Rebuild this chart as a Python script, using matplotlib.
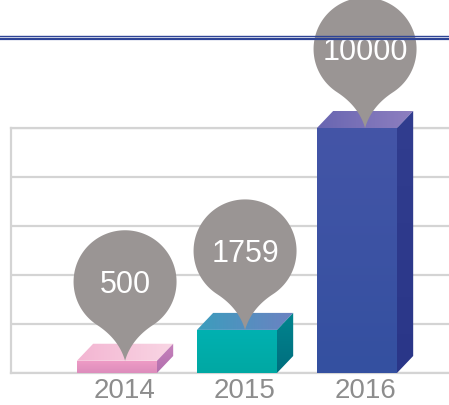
import numpy as np
import matplotlib
matplotlib.use("Agg")
import matplotlib.pyplot as plt
from matplotlib.patches import Polygon, PathPatch
from matplotlib.path import Path
from matplotlib.lines import Line2D
import matplotlib.transforms as mtransforms
from matplotlib.colors import to_rgb

# ---- data ----
years = ["2014", "2015", "2016"]
values = [500, 1759, 10000]
labels = ["500", "1759", "10000"]

# ---- colours ----
front_top = ["#ef9cc6", "#00b1b1", "#4455a7"]
front_bot = ["#dd8dbc", "#00a8a3", "#3450a0"]
top_left = ["#f3b5d2", "#3c9dbd", "#6966b1"]
top_right = ["#f9d6e4", "#6c82c2", "#8e7fc0"]
side_top = ["#c682bc", "#00858f", "#313d8f"]
side_bot = ["#b26fae", "#006e7e", "#2a3688"]
pin_color = "#9a9594"
grid_color = "#d4d4d4"
year_color = "#8d8d8d"
rule_color = "#2e4496"

plt.rcParams['font.family'] = ['Liberation Sans', 'DejaVu Sans']

W, H, DPI = 449, 405, 100
fig = plt.figure(figsize=(W / DPI, H / DPI), dpi=DPI)
ax = fig.add_axes([11 / W, (H - 373) / H, (W - 11) / W, (373 - 128) / H])

x = np.arange(len(years))
bw = 0.667
ddx = 0.135
ddy = 694
xlim = (-0.883, -0.883 + (W - 11) / 120)
ax.set_xlim(*xlim)
ax.set_ylim(0, 10000)

# grid
ax.set_yticks(np.arange(0, 10001, 2000))
ax.grid(axis='y', color=grid_color, lw=1.6, zorder=0)
ax.set_axisbelow(True)
ax.spines['right'].set_visible(False)
for s in ['left', 'top', 'bottom']:
    ax.spines[s].set_color(grid_color)
    ax.spines[s].set_linewidth(1.6)
    ax.spines[s].set_zorder(0.5)
ax.tick_params(axis='y', length=0, labelleft=False)
ax.set_xticks(x + ddx / 2, years)
ax.tick_params(axis='x', length=0, pad=3.5, labelsize=20, labelcolor=year_color)


def grad_fill(verts, c1, c2, direction, z):
    poly = Polygon(verts, closed=True, facecolor='none', edgecolor='none',
                   clip_on=False)
    ax.add_patch(poly)
    xs = [v[0] for v in verts]
    ys = [v[1] for v in verts]
    t = np.linspace(0, 1, 64)
    a = np.array(to_rgb(c1))
    b = np.array(to_rgb(c2))
    cols = a[None, :] * (1 - t[:, None]) + b[None, :] * t[:, None]
    img = cols[None, :, :] if direction == 'h' else cols[:, None, :]
    im = ax.imshow(img, extent=(min(xs), max(xs), min(ys), max(ys)),
                   aspect='auto', origin='upper', interpolation='bilinear',
                   zorder=z)
    im.set_clip_box(fig.bbox)
    im.set_clip_path(poly)


for i, v in enumerate(values):
    x0 = x[i] - bw / 2
    x1 = x[i] + bw / 2
    grad_fill([(x0, 0), (x1, 0), (x1, v), (x0, v)], front_top[i], front_bot[i], 'v', 2)
    grad_fill([(x0, v), (x1, v), (x1 + ddx, v + ddy), (x0 + ddx, v + ddy)],
              top_left[i], top_right[i], 'h', 2)
    grad_fill([(x1, 0), (x1 + ddx, ddy), (x1 + ddx, v + ddy), (x1, v)],
              side_top[i], side_bot[i], 'v', 2)

ax.set_xlim(*xlim)
ax.set_ylim(0, 10000)


def pin_path(r=51.5, c=79.0, ang=57.0, k=26.0):
    a = np.deg2rad(ang)
    jr = np.array([r * np.cos(-a), c + r * np.sin(-a)])
    jl = np.array([-jr[0], jr[1]])
    tr = np.array([np.sin(a), np.cos(a)])
    cr = jr - k * tr
    cl = np.array([-cr[0], cr[1]])
    s = np.linspace(0, 1, 30)[:, None]
    tip = np.array([0.0, 0.0])
    seg1 = (1 - s) ** 2 * tip + 2 * (1 - s) * s * cr + s ** 2 * jr
    th = np.linspace(-a, np.pi + a, 120)
    arc = np.column_stack([r * np.cos(th), c + r * np.sin(th)])
    seg2 = (1 - s) ** 2 * jl + 2 * (1 - s) * s * cl + s ** 2 * tip
    pts = np.vstack([seg1, arc, seg2])
    return Path(pts, closed=False)


pp = pin_path()
for i, v in enumerate(values):
    xt = x[i] + ddx / 2
    yt = v
    tr = mtransforms.Affine2D() + mtransforms.ScaledTranslation(xt, yt, ax.transData)
    patch = PathPatch(pp, transform=tr, facecolor=pin_color, edgecolor='none',
                      zorder=5, clip_on=False)
    ax.add_artist(patch)
    ax.annotate(labels[i], xy=(xt, yt), xytext=(0, 68 * 0.72),
                textcoords='offset points', ha='center', va='baseline',
                color='white', fontsize=22, zorder=6, annotation_clip=False)

# header double rule
fig.add_artist(Line2D([0, 1], [1 - 35.5 / H] * 2, transform=fig.transFigure,
                      color=rule_color, lw=1.0, zorder=1))
fig.add_artist(Line2D([0, 1], [1 - 39.0 / H] * 2, transform=fig.transFigure,
                      color=rule_color, lw=1.6, zorder=1))

fig.savefig("out.png", dpi=DPI)
